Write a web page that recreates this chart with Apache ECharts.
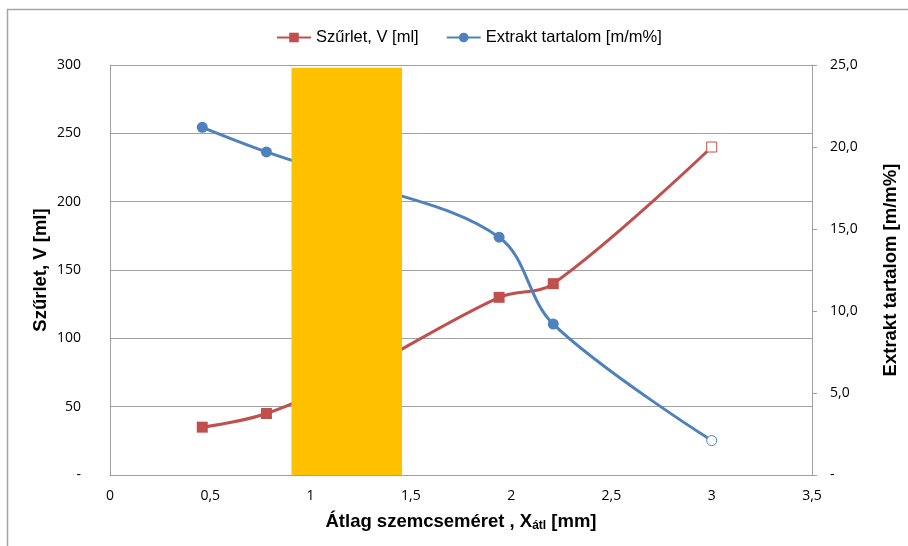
<!DOCTYPE html>
<html>
<head>
<meta charset="utf-8">
<script src="https://cdn.jsdelivr.net/npm/echarts@6/dist/echarts.min.js"></script>
<style>
  html, body { margin: 0; padding: 0; background: #fff; }
  #chart { width: 908px; height: 546px; }
</style>
</head>
<body>
<div id="chart"></div>
<script>
// Mean particle size [mm]
const particleSize = [0.46, 0.78, 1.2, 1.94, 2.21, 3.0];
// Filtrate volume [ml]
const filtrateVolume = [35, 45, 72, 130, 140, 240];
// Extract content [m/m%]
const extractContent = [21.2, 19.7, 18.0, 14.5, 9.2, 2.1];
// Highlighted size range [mm] and its height on the volume axis [ml]
const bandRange = [0.905, 1.456];
const bandTop = 298;

const RED = '#C0504D';
const BLUE = '#4F81BD';
const YELLOW = '#FFC000';
const AXIS_GRAY = '#A0A0A0';
const TITLE_FONT = { fontFamily: 'Liberation Sans', fontWeight: 'bold', fontSize: 18.5, color: '#000' };
const TICK_FONT = { fontFamily: 'Open Sans', fontSize: 14, color: '#000' };

const comma = (v, d) => (d == null ? String(v) : v.toFixed(d)).replace('.', ',');

// Last point of each series is drawn with a hollow marker
function seriesData(values, color) {
  return values.map((v, i) => {
    const item = { value: [particleSize[i], v] };
    if (i === values.length - 1) {
      item.symbolSize = 10;
      item.itemStyle = { color: '#fff', borderColor: color, borderWidth: 1 };
    }
    return item;
  });
}

const chart = echarts.init(document.getElementById('chart'));

chart.setOption({
  animation: false,
  backgroundColor: '#fff',
  graphic: [{
    type: 'rect',
    shape: { x: 7.5, y: 9.5, width: 1000, height: 700 },
    style: { fill: 'none', stroke: '#A6A6A6', lineWidth: 1.5 },
    silent: true, z: -1
  }],
  legend: {
    top: 24,
    left: 271,
    itemWidth: 34,
    itemHeight: 12,
    itemGap: 27,
    textStyle: { fontFamily: 'Liberation Sans', fontSize: 16.5, color: '#000' },
    data: ['Szűrlet, V [ml]', 'Extrakt tartalom [m/m%]']
  },
  grid: { left: 110, right: 96, top: 65, bottom: 71 },
  xAxis: {
    type: 'value',
    min: 0, max: 3.5, interval: 0.5,
    name: '{m|Átlag szemcseméret , X}{s|átl}{m| [mm]}',
    nameLocation: 'middle',
    nameGap: 36,
    nameTextStyle: {
      rich: {
        m: TITLE_FONT,
        s: Object.assign({}, TITLE_FONT, { fontSize: 12, padding: [9, 0, 0, 0] })
      }
    },
    axisLine: { show: true, lineStyle: { color: AXIS_GRAY, width: 1 } },
    axisTick: { show: false },
    splitLine: { show: false },
    axisLabel: Object.assign({ margin: 14, formatter: v => comma(v) }, TICK_FONT)
  },
  yAxis: [{
    type: 'value',
    min: 0, max: 300, interval: 50,
    name: 'Szűrlet, V [ml]',
    nameLocation: 'middle',
    nameMoveOverlap: false,
    nameGap: 60,
    nameTextStyle: TITLE_FONT,
    axisLine: { show: true, lineStyle: { color: AXIS_GRAY, width: 1 } },
    axisTick: { show: false },
    splitLine: { show: true, lineStyle: { color: AXIS_GRAY, width: 1 } },
    axisLabel: Object.assign({ margin: 29, formatter: v => (v === 0 ? '-' : String(v)) }, TICK_FONT)
  }, {
    type: 'value',
    min: 0, max: 25, interval: 5,
    position: 'right',
    name: 'Extrakt tartalom [m/m%]',
    nameLocation: 'middle',
    nameGap: 69,
    nameTextStyle: TITLE_FONT,
    axisLine: { show: true, lineStyle: { color: AXIS_GRAY, width: 1 } },
    axisTick: { show: true, length: 5, lineStyle: { color: AXIS_GRAY } },
    splitLine: { show: false },
    axisLabel: Object.assign({ margin: 18, formatter: v => (v === 0 ? '-' : comma(v, 1)) }, TICK_FONT)
  }],
  series: [{
    name: 'Szűrlet, V [ml]',
    type: 'line',
    yAxisIndex: 0,
    smooth: 0.35,
    symbol: 'rect',
    symbolSize: 11,
    color: RED,
    lineStyle: { color: RED, width: 3 },
    itemStyle: { color: RED },
    data: seriesData(filtrateVolume, RED),
    z: 3
  }, {
    name: 'Extrakt tartalom [m/m%]',
    type: 'line',
    yAxisIndex: 1,
    smooth: 0.35,
    symbol: 'circle',
    symbolSize: 11,
    color: BLUE,
    lineStyle: { color: BLUE, width: 3 },
    itemStyle: { color: BLUE },
    data: seriesData(extractContent, BLUE),
    z: 3
  }, {
    // Highlighted particle size range, drawn over the curves
    type: 'custom',
    yAxisIndex: 0,
    silent: true,
    z: 10,
    data: [[bandRange[0], bandRange[1], bandTop]],
    renderItem: (params, api) => {
      const p0 = api.coord([api.value(0), api.value(2)]);
      const p1 = api.coord([api.value(1), 0]);
      return {
        type: 'rect',
        shape: { x: p0[0], y: p0[1], width: p1[0] - p0[0], height: p1[1] - p0[1] },
        style: { fill: YELLOW }
      };
    }
  }]
});
</script>
</body>
</html>
